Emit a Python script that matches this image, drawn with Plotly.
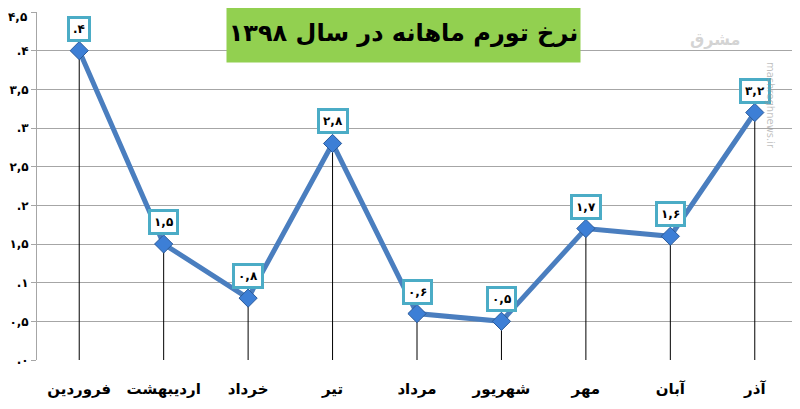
import plotly.graph_objects as go

months = ["فروردین", "اردیبهشت", "خرداد", "تیر", "مرداد", "شهریور", "مهر", "آبان", "آذر"]
values = [4.0, 1.5, 0.8, 2.8, 0.6, 0.5, 1.7, 1.6, 3.2]
value_labels = [".۴", "۱,۵", "۰,۸", "۲,۸", "۰,۶", "۰,۵", "۱,۷", "۱,۶", "۳,۲"]
ytick_vals = [0, 0.5, 1, 1.5, 2, 2.5, 3, 3.5, 4, 4.5]
ytick_text = [".۰", "۰,۵", ".۱", "۱,۵", ".۲", "۲,۵", ".۳", "۳,۵", ".۴", "۴,۵"]
title_text = "نرخ تورم ماهانه در سال ۱۳۹۸"

fig = go.Figure()

# drop lines
fig.add_trace(go.Scatter(
    x=months, y=values, mode="markers",
    marker=dict(size=1, color="rgba(0,0,0,0)"),
    error_y=dict(type="data", symmetric=False, array=[0]*len(values),
                 arrayminus=values, color="black", thickness=1, width=0),
    hoverinfo="skip", showlegend=False,
))

fig.add_trace(go.Scatter(
    x=months, y=values, mode="lines+markers",
    line=dict(color="#4a7ebf", width=5),
    marker=dict(symbol="diamond", size=14, color="#3d7fd6",
                line=dict(color="#2a5a9a", width=1)),
    showlegend=False,
))

for m, v, t in zip(months, values, value_labels):
    fig.add_annotation(
        x=m, y=v, text="<b>" + t + "</b>", showarrow=False, yshift=22,
        font=dict(family="DejaVu Sans", size=12, color="black"),
        bgcolor="white", bordercolor="#4bacc6", borderwidth=3, borderpad=3,
    )

# top tick label placed as annotation so it stays inside the figure
shown_ticks = ["<b>" + t + "</b>" for t in ytick_text]
shown_ticks[-1] = ""
fig.add_annotation(
    x=0, xref="paper", xanchor="right", xshift=-8,
    y=ytick_vals[-1], yref="y", yanchor="top", yshift=4,
    text="<b>" + ytick_text[-1] + "</b>", showarrow=False,
    font=dict(family="DejaVu Sans", size=12, color="black"),
)

# title box
fig.add_annotation(
    x=(403 - 37) / 760, y=(360 - 33) / 348, xref="paper", yref="paper",
    xanchor="center", yanchor="middle",
    text="<b>" + title_text + "</b>", showarrow=False,
    font=dict(family="DejaVu Sans", size=24, color="black"),
    bgcolor="#92d050", borderpad=0, width=353, height=59,
)

# watermark
fig.add_annotation(
    x=(778 - 37) / 760, y=(360 - 60) / 348, xref="paper", yref="paper",
    text="mashreghnews.ir", textangle=90, showarrow=False,
    font=dict(family="DejaVu Sans", size=10, color="rgba(150,150,150,0.6)"),
)
fig.add_annotation(
    x=(742 - 37) / 760, y=(360 - 28) / 348, xref="paper", yref="paper",
    text="<b>مشرق</b>", showarrow=False,
    font=dict(family="DejaVu Sans", size=16, color="rgba(170,170,170,0.5)"),
)

fig.update_layout(
    width=792, height=401,
    margin=dict(l=29, r=3, t=4, b=49),
    paper_bgcolor="white", plot_bgcolor="white",
    xaxis=dict(
        type="category", range=[-0.5, 8.5], showgrid=False,
        showline=False, ticks="outside", ticklen=15, tickcolor="rgba(0,0,0,0)",
        automargin=False,
        tickfont=dict(family="DejaVu Sans", size=15, color="black"),
        tickprefix="<b>", ticksuffix="</b>",
    ),
    yaxis=dict(
        range=[0, 4.5], tickvals=ytick_vals, ticktext=shown_ticks,
        showgrid=True, gridcolor="#a6a6a6", gridwidth=1, automargin=False,
        showline=True, linecolor="#a6a6a6", linewidth=1,
        ticks="outside", ticklen=5, tickcolor="#a6a6a6",
        tickfont=dict(family="DejaVu Sans", size=12, color="black"),
        zeroline=False,
    ),
)

fig.write_html("out.html")
